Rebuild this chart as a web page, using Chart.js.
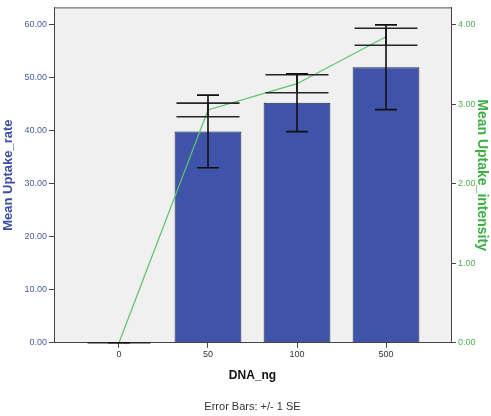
<!DOCTYPE html>
<html>
<head>
<meta charset="utf-8">
<script src="https://cdn.jsdelivr.net/npm/chart.js@4/dist/chart.umd.min.js"></script>
<style>
  body { margin: 0; background: #fff; }
</style>
</head>
<body>
<canvas id="barChart" width="491" height="416"></canvas>
<script>
var categories = ['0', '50', '100', '500'];
var uptakeRate = [0, 39.9, 45.3, 52.0];
var rateSE = [0, 6.85, 5.45, 8.0];
var uptakeIntensity = [0, 2.93, 3.26, 3.85];
var intensitySE = [0, 0.086, 0.113, 0.107];
var rateTicks = [0, 10, 20, 30, 40, 50, 60];
var intensityTicks = [0, 1, 2, 3, 4];

window.onload = function() {

    Chart.defaults.font.family = "'Liberation Sans', Arial, sans-serif";

    // grey plot area, frame and the error bars
    var spssLook = {
        id: 'spssLook',
        beforeDraw: function(chart) {
            var a = chart.chartArea, ctx = chart.ctx;
            ctx.save();
            ctx.fillStyle = '#f0f0f0';
            ctx.fillRect(a.left, a.top, a.right - a.left, a.bottom - a.top);
            ctx.restore();
        },
        afterDatasetsDraw: function(chart) {
            var ctx = chart.ctx, x = chart.scales.x, y = chart.scales.y, y1 = chart.scales.y1;
            ctx.save();
            ctx.lineWidth = 1.6;
            function bar(px, lo, hi, half, colour) {
                ctx.strokeStyle = colour;
                ctx.beginPath();
                ctx.moveTo(px, lo); ctx.lineTo(px, hi);
                ctx.moveTo(px - half, lo); ctx.lineTo(px + half, lo);
                ctx.moveTo(px - half, hi); ctx.lineTo(px + half, hi);
                ctx.stroke();
            }
            for (var i = 0; i < categories.length; i++) {
                var px = x.getPixelForValue(i);
                bar(px, y1.getPixelForValue(uptakeIntensity[i] - intensitySE[i]),
                    y1.getPixelForValue(uptakeIntensity[i] + intensitySE[i]), 31.5, '#262626');
                bar(px, y.getPixelForValue(uptakeRate[i] - rateSE[i]),
                    y.getPixelForValue(uptakeRate[i] + rateSE[i]), 11, '#111');
            }
            ctx.restore();
        },
        afterDraw: function(chart) {
            var a = chart.chartArea, ctx = chart.ctx;
            ctx.save();
            ctx.strokeStyle = '#555';
            ctx.lineWidth = 1;
            ctx.beginPath();
            ctx.moveTo(a.left, a.top + 0.5);
            ctx.lineTo(a.right, a.top + 0.5);
            ctx.stroke();
            ctx.restore();
        }
    };

    var chart = document.getElementById('barChart').getContext('2d');

    var myChart = new Chart(chart, {
        type: 'bar',
        data: {
            datasets: [{
                type: 'line',
                label: 'Mean Uptake_intensity',
                data: categories.map(function(c, i) { return {x: i, y: uptakeIntensity[i]}; }),
                yAxisID: 'y1',
                borderColor: '#5cc46c',
                borderWidth: 1.2,
                pointRadius: 0,
                tension: 0,
                order: 1
            }, {
                label: 'Mean Uptake_rate',
                data: categories.map(function(c, i) { return {x: i, y: uptakeRate[i]}; }),
                yAxisID: 'y',
                backgroundColor: '#3f53a8',
                borderColor: '#1f2647',
                borderWidth: 1,
                barPercentage: 0.75,
                categoryPercentage: 1,
                order: 2
            }]
        },
        options: {
            responsive: false,
            animation: false,
            layout: { padding: { top: 7, left: 0, right: 0, bottom: 0 } },
            plugins: {
                legend: { display: false },
                tooltip: { enabled: false },
                title: {
                    display: true,
                    text: 'Error Bars: +/- 1 SE',
                    position: 'bottom',
                    fullSize: false,
                    color: '#333',
                    font: { size: 11, weight: 'normal' },
                    padding: { top: 0, bottom: 2 }
                }
            },
            scales: {
                x: {
                    type: 'linear',
                    offset: false,
                    min: -0.73,
                    max: 3.73,
                    afterBuildTicks: function(s) {
                        s.ticks = categories.map(function(c, i) { return {value: i}; });
                    },
                    afterFit: function(s) { s.height = 58; },
                    grid: { display: true, offset: false, drawOnChartArea: false, tickLength: 5, tickColor: '#444' },
                    border: { display: true, color: '#444', width: 1 },
                    ticks: {
                        color: '#333',
                        font: { size: 9 },
                        padding: 1,
                        maxRotation: 0,
                        callback: function(v) { return categories[v]; }
                    },
                    title: {
                        display: true,
                        text: 'DNA_ng',
                        color: '#111',
                        font: { size: 12, weight: 'bold' },
                        padding: { top: 0, bottom: 18 }
                    }
                },
                y: {
                    position: 'left',
                    min: 0,
                    max: 63.3,
                    afterBuildTicks: function(s) {
                        s.ticks = rateTicks.map(function(v) { return {value: v}; });
                    },
                    afterFit: function(s) { s.width = 54; },
                    grid: { display: true, drawOnChartArea: false, tickLength: 5, tickColor: '#444' },
                    border: { display: true, color: '#444', width: 1 },
                    ticks: {
                        color: '#4b5a9e',
                        font: { size: 9 },
                        padding: 2,
                        callback: function(v) { return v.toFixed(2); }
                    },
                    title: {
                        display: true,
                        text: 'Mean Uptake_rate',
                        color: '#3b4ea3',
                        font: { size: 13, weight: 'bold' },
                        padding: { top: 1, bottom: 0 }
                    }
                },
                y1: {
                    position: 'right',
                    min: 0,
                    max: 4.22,
                    afterBuildTicks: function(s) {
                        s.ticks = intensityTicks.map(function(v) { return {value: v}; });
                    },
                    afterFit: function(s) { s.width = 40; },
                    grid: { display: true, drawOnChartArea: false, tickLength: 5, tickColor: '#444' },
                    border: { display: true, color: '#444', width: 1 },
                    ticks: {
                        color: '#4cb050',
                        font: { size: 9 },
                        padding: 2,
                        callback: function(v) { return v.toFixed(2); }
                    },
                    title: {
                        display: true,
                        text: 'Mean Uptake_intensity',
                        color: '#3cb043',
                        font: { size: 14, weight: 'bold' },
                        padding: { top: 1, bottom: 0 }
                    }
                }
            }
        },
        plugins: [spssLook]
    });
};
</script>
</body>
</html>
